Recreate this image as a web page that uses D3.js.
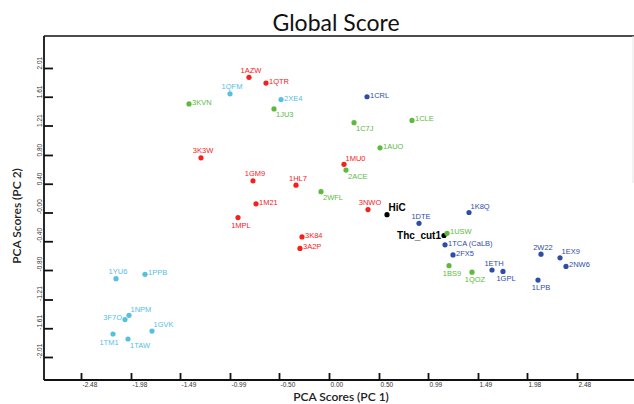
<!DOCTYPE html>
<html>
<head>
<meta charset="utf-8">
<script src="https://cdn.jsdelivr.net/npm/d3@7"></script>
<style>
  html, body { margin: 0; padding: 0; background: #fff; }
  svg { display: block; }
</style>
</head>
<body>
<div id="chart"></div>
<script>
// ---- data ----
const names = ["1AZW","1QTR","1QFM","2XE4","1JU3","3KVN","3K3W","1GM9","1HL7","1M21","1MPL","3K84","3A2P",
  "1MU0","2ACE","2WFL","3NWO","HiC","1AUO","1CRL","1C7J","1CLE","1K8Q","1DTE","Thc_cut1","1USW","1TCA (CaLB)",
  "2FX5","1BS9","1QOZ","1ETH","1GPL","2W22","1EX9","2NW6","1LPB","1YU6","1PPB","1NPM","3F7O","1TM1","1TAW","1GVK"];
const pc1 = [-0.80,-0.63,-0.99,-0.48,-0.55,-1.40,-1.28,-0.76,-0.33,-0.73,-0.91,-0.27,-0.29,
  0.15,0.17,-0.08,0.39,0.58,0.51,0.38,0.25,0.83,1.40,0.90,1.15,1.18,1.16,
  1.24,1.20,1.43,1.63,1.74,2.12,2.31,2.37,2.09,-2.13,-1.84,-2.00,-2.04,-2.16,-2.01,-1.77];
const pc2 = [1.88,1.80,1.65,1.57,1.44,1.51,0.76,0.44,0.38,0.12,-0.07,-0.34,-0.50,
  0.67,0.59,0.29,0.04,-0.03,0.90,1.61,1.25,1.28,0.00,-0.15,-0.32,-0.29,-0.45,
  -0.59,-0.74,-0.83,-0.80,-0.82,-0.58,-0.63,-0.75,-0.94,-0.92,-0.86,-1.43,-1.49,-1.69,-1.76,-1.65];
const groups = ["red","red","cyan","cyan","green","green","red","red","red","red","red","red","red",
  "red","green","green","red","black","green","blue","green","green","blue","blue","black","green","blue",
  "blue","green","green","blue","blue","blue","blue","blue","blue","cyan","cyan","cyan","cyan","cyan","cyan","cyan"];
// label placement codes (layout)
const labelPos = ["t","r","t","r","br","r","t","t","t","r","b","r","r",
  "tr","br","br","t","tr","r","r","br","r","tr","t","l","r","r",
  "r","b","b","t","b","t","tr","r","b","t","r","tr","l","bl","br","tr"];
const xTicks = [-2.48,-1.98,-1.49,-0.99,-0.50,0.00,0.50,0.99,1.49,1.98,2.48];
const xTickLabels = ["-2.48","-1.98","-1.49","-0.99","-0.50","0.00","0.50","0.99","1.49","1.98","2.48"];
const yTicks = [2.01,1.61,1.21,0.80,0.40,-0.00,-0.40,-0.80,-1.21,-1.61,-2.01];
const yTickLabels = ["2.01","1.61","1.21","0.80","0.40","-0.00","-0.40","-0.80","-1.21","-1.61","-2.01"];
const chartTitle = "Global Score";
const xTitle = "PCA Scores (PC 1)";
const yTitle = "PCA Scores (PC 2)";

// ---- styles ----
const colors = { red: "#f5201e", green: "#5dba3f", cyan: "#55c0df", blue: "#2d4ea6", black: "#000000" };
const W = 634, H = 404;
const mLeft = 44, mRight = 633, mTop = 36, mBottom = 380;

const svg = d3.select("#chart").append("svg").attr("width", W).attr("height", H);

const x = d3.scaleLinear().domain([-2.85, 3.04]).range([mLeft, mRight]);
const y = d3.scaleLinear().domain([-2.33, 2.455]).range([mBottom, mTop]);

// frame (top line + faint right line)
svg.append("line").attr("x1", mLeft).attr("x2", W).attr("y1", mTop).attr("y2", mTop)
  .attr("stroke", "#111").attr("stroke-width", 1.6);
svg.append("line").attr("x1", mRight).attr("x2", mRight).attr("y1", mTop).attr("y2", 183)
  .attr("stroke", "#e6e6e6").attr("stroke-width", 1);

// x axis
const xAxis = d3.axisBottom(x).tickValues(xTicks)
  .tickFormat((d, i) => xTickLabels[i]).tickSizeInner(-7).tickSizeOuter(0).tickPadding(2);
const gx = svg.append("g").attr("transform", `translate(0,${mBottom})`).call(xAxis);
gx.select(".domain").attr("d", `M${mLeft},0H${W}`).attr("stroke", "#111").attr("stroke-width", 1.8);
gx.selectAll(".tick line").attr("stroke", "#111").attr("stroke-width", 1.8);
gx.selectAll(".tick text").attr("text-anchor", "start").attr("dx", 1)
  .attr("font-family", "'Liberation Sans Narrow','Liberation Sans',Arial,sans-serif")
  .attr("font-size", 6.5).attr("fill", "#333");

// y axis
const yAxis = d3.axisLeft(y).tickValues(yTicks)
  .tickFormat((d, i) => yTickLabels[i]).tickSizeInner(-9).tickSizeOuter(0).tickPadding(2);
const gy = svg.append("g").attr("transform", `translate(${mLeft},0)`).call(yAxis);
gy.select(".domain").attr("d", `M0,${mTop}V${mBottom}`).attr("stroke", "#111").attr("stroke-width", 1.8);
gy.selectAll(".tick line").attr("stroke", "#111").attr("stroke-width", 1.8);
gy.selectAll(".tick text")
  .attr("x", null).attr("dy", null)
  .attr("text-anchor", "start")
  .attr("transform", "translate(-2,1) rotate(-90)")
  .attr("font-family", "'Liberation Sans Narrow','Liberation Sans',Arial,sans-serif")
  .attr("font-size", 6.5).attr("fill", "#333");

// titles
svg.append("text").attr("x", 336).attr("y", 31).attr("text-anchor", "middle")
  .attr("font-family", "Lato, 'Open Sans', sans-serif").attr("font-size", 23)
  .attr("fill", "#111").text(chartTitle);
svg.append("text").attr("x", 341).attr("y", 401).attr("text-anchor", "middle")
  .attr("font-family", "Lato, 'Open Sans', sans-serif").attr("font-size", 12).attr("font-weight", 600)
  .attr("fill", "#222").text(xTitle);
svg.append("text").attr("transform", "translate(21,216) rotate(-90)").attr("text-anchor", "middle")
  .attr("font-family", "Lato, 'Open Sans', sans-serif").attr("font-size", 12).attr("font-weight", 600)
  .attr("fill", "#222").text(yTitle);

// points
const data = names.map((n, i) => ({ name: n, px: pc1[i], py: pc2[i], g: groups[i], pos: labelPos[i] }));
const gp = svg.append("g");
gp.selectAll("circle").data(data).join("circle")
  .attr("cx", d => x(d.px)).attr("cy", d => y(d.py)).attr("r", 2.6)
  .attr("fill", d => colors[d.g]);

function place(d) {
  const big = d.g === "black";
  const fs = big ? 10 : 7.5;
  const cx = x(d.px), cy = y(d.py);
  switch (d.pos) {
    case "t":  return { x: cx + 2, y: cy - 4.5, a: "middle", fs };
    case "b":  return { x: cx + 3, y: cy + 10, a: "middle", fs };
    case "r":  return { x: cx + 3, y: cy + (big ? 3.5 : 1), a: "start", fs };
    case "tr": return { x: cx + 1.5, y: cy - 3.7, a: "start", fs };
    case "br": return { x: cx + 2, y: cy + 8.5, a: "start", fs };
    case "l":  return { x: cx - 3, y: cy + (big ? 3.5 : 0), a: "end", fs };
    case "bl": return { x: cx - 4, y: cy + 11, a: "middle", fs };
  }
}
gp.selectAll("text").data(data).join("text")
  .each(function(d) {
    const p = place(d);
    d3.select(this).attr("x", p.x).attr("y", p.y).attr("text-anchor", p.a)
      .attr("font-size", p.fs);
  })
  .attr("font-family", d => d.g === "black" ? "'Liberation Sans',Arial,sans-serif" : "'Liberation Sans Narrow','Liberation Sans',Arial,sans-serif")
  .attr("font-weight", d => d.g === "black" ? "bold" : "normal")
  .attr("fill", d => colors[d.g])
  .text(d => d.name);
</script>
</body>
</html>
